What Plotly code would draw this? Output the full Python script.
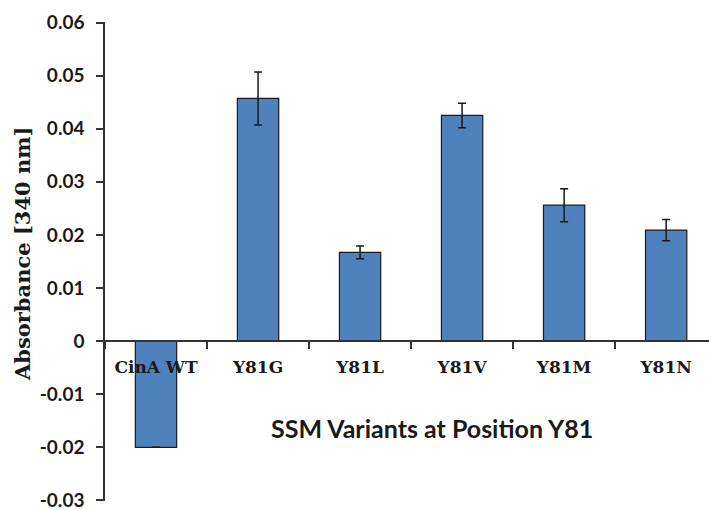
import plotly.graph_objects as go

categories = ["CinA WT", "Y81G", "Y81L", "Y81V", "Y81M", "Y81N"]
values = [-0.0200, 0.0457, 0.0167, 0.0425, 0.0256, 0.0209]
errors = [None, 0.0050, 0.0012, 0.0023, 0.0031, 0.0020]
y_tickvals = [-0.03, -0.02, -0.01, 0, 0.01, 0.02, 0.03, 0.04, 0.05, 0.06]
y_ticktext = ["-0.03", "-0.02", "-0.01", "0", "0.01", "0.02", "0.03", "0.04", "0.05", "0.06"]
x_title = "SSM Variants at Position Y81"
y_title = "Absorbance [340 nm]"

W, H = 709, 510
ml, mr, mt, mb = 105, 0, 22, 9
pw, ph = W - ml - mr, H - mt - mb

fig = go.Figure()
fig.add_trace(go.Bar(
    x=categories, y=values, width=0.405,
    marker=dict(color="#4F81BD", line=dict(color="#1a1a1a", width=1.2)),
    error_y=dict(type="data", array=errors, visible=True, color="#1a1a1a",
                 thickness=1.5, width=4),
))

ymin, ymax = -0.0301, 0.0601
fig.update_layout(
    width=W, height=H, margin=dict(l=ml, r=mr, t=mt, b=mb),
    plot_bgcolor="white", paper_bgcolor="white", showlegend=False,
    xaxis=dict(type="category", range=[-0.5, 5.42], anchor="free",
               position=(0 - ymin) / (ymax - ymin),
               showline=True, linecolor="#333333", linewidth=1.5,
               ticks="outside", tickson="boundaries", ticklen=7, tickcolor="#333333",
               tickwidth=1.5, showgrid=False, ticklabelstandoff=11,
               tickfont=dict(family="DejaVu Serif", size=17, color="#1a1a1a", weight="bold")),
    yaxis=dict(range=[ymin, ymax], tickvals=y_tickvals, ticktext=y_ticktext,
               showline=True, linecolor="#333333", linewidth=1.5,
               ticks="outside", ticklen=7, tickcolor="#333333", tickwidth=1.5,
               showgrid=False, zeroline=False, ticklabelstandoff=8,
               ticklabeloverflow="allow",
               tickfont=dict(family="Lato", size=19, color="#1a1a1a", weight="bold")),
    annotations=[
        dict(text=x_title, xref="paper", yref="paper",
             x=(432 - ml) / pw, y=(H - mb - 428) / ph, showarrow=False,
             xanchor="center", yanchor="middle",
             font=dict(family="Lato", size=25, color="#1a1a1a", weight="bold")),
        dict(text=y_title, xref="paper", yref="paper", textangle=-90,
             x=(22 - ml) / pw, y=(H - mb - 254) / ph, showarrow=False,
             xanchor="center", yanchor="middle",
             font=dict(family="DejaVu Serif", size=21, color="#1a1a1a", weight="bold")),
    ],
)

fig.write_html("out.html")
